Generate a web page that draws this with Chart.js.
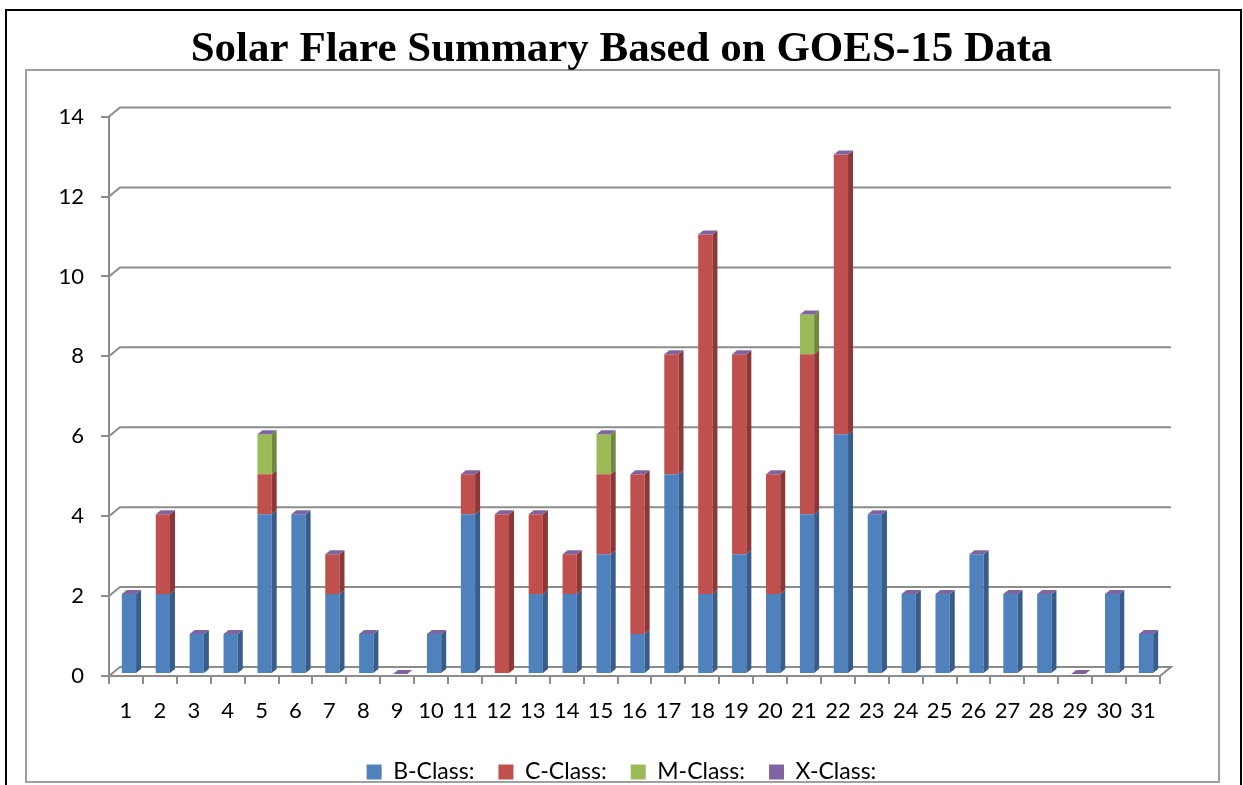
<!DOCTYPE html>
<html lang="en">

<head>
  <meta charset="UTF-8">
  <script src="https://cdn.jsdelivr.net/npm/chart.js"></script>
  <title>Solar Flare Summary</title>
  <style>
    html, body { margin: 0; padding: 0; background: #fff; }
    #wrap { width: 1243px; height: 785px; position: relative; }
  </style>
</head>

<body>
  <div id="wrap">
    <canvas id="grafico"></canvas>
  </div>
</body>

</html>
<script>
  // day of month
  var dias = [1, 2, 3, 4, 5, 6, 7, 8, 9, 10, 11, 12, 13, 14, 15, 16,
    17, 18, 19, 20, 21, 22, 23, 24, 25, 26, 27, 28, 29, 30, 31]

  // flares per class
  var bClass = [2, 2, 1, 1, 4, 4, 2, 1, 0, 1, 4, 0, 2, 2, 3, 1,
    5, 2, 3, 2, 4, 6, 4, 2, 2, 3, 2, 2, 0, 2, 1]
  var cClass = [0, 2, 0, 0, 1, 0, 1, 0, 0, 0, 1, 4, 2, 1, 2, 4,
    3, 9, 5, 3, 4, 7, 0, 0, 0, 0, 0, 0, 0, 0, 0]
  var mClass = [0, 0, 0, 0, 1, 0, 0, 0, 0, 0, 0, 0, 0, 0, 1, 0,
    0, 0, 0, 0, 1, 0, 0, 0, 0, 0, 0, 0, 0, 0, 0]
  var xClass = [0, 0, 0, 0, 0, 0, 0, 0, 0, 0, 0, 0, 0, 0, 0, 0,
    0, 0, 0, 0, 0, 0, 0, 0, 0, 0, 0, 0, 0, 0, 0]

  var yTicks = [0, 2, 4, 6, 8, 10, 12, 14]

  var nomes = ['B-Class:', 'C-Class:', 'M-Class:', 'X-Class:']
  var cores = ['#4f81bd', '#c0504d', '#9bbb59', '#8064a2']
  var coresLado = ['#385d8a', '#8c3836', '#71893f', '#5c4776']

  var GRID = '#8c8c8c'
  var DX = 11, DY = 9      // back wall depth
  var BX = 5, BY = 4       // bar depth
  var SHIFT_X = 3, SHIFT_Y = -2

  var efeito3d = {
    id: 'efeito3d',
    beforeDraw: function (chart) {
      var ctx = chart.ctx
      ctx.save()
      ctx.fillStyle = '#fff'
      ctx.fillRect(0, 0, chart.width, chart.height)
      // outer page border
      ctx.strokeStyle = '#000'
      ctx.lineWidth = 2
      ctx.strokeRect(6, 10, 1235, 790)
      // chart frame
      ctx.strokeStyle = '#a0a0a0'
      ctx.lineWidth = 2
      ctx.strokeRect(26, 70, 1193, 712)
      ctx.restore()
    },
    beforeDatasetsDraw: function (chart) {
      var ctx = chart.ctx
      var area = chart.chartArea
      var y = chart.scales.y
      ctx.save()
      ctx.strokeStyle = GRID
      ctx.lineWidth = 2
      yTicks.forEach(function (v) {
        var py = y.getPixelForValue(v)
        ctx.beginPath()
        ctx.moveTo(area.left, py)
        ctx.lineTo(area.left + DX, py - DY)
        ctx.lineTo(area.right + DX, py - DY)
        if (v === 0) ctx.lineTo(area.right, py)
        ctx.stroke()
      })
      ctx.restore()
      ctx.save()
      ctx.translate(SHIFT_X, SHIFT_Y)
    },
    afterDatasetsDraw: function (chart) {
      var ctx = chart.ctx
      var n = chart.data.datasets.length
      for (var d = 0; d < n; d++) {
        var meta = chart.getDatasetMeta(d)
        meta.data.forEach(function (bar) {
          var p = bar.getProps(['x', 'y', 'base', 'width'], true)
          var r = p.x + p.width / 2
          var l = p.x - p.width / 2
          if (p.base - p.y > 0.5) {
            ctx.fillStyle = coresLado[d]
            ctx.beginPath()
            ctx.moveTo(r, p.y)
            ctx.lineTo(r + BX, p.y - BY)
            ctx.lineTo(r + BX, p.base - BY)
            ctx.lineTo(r, p.base)
            ctx.closePath()
            ctx.fill()
          }
          if (d === n - 1) {
            ctx.fillStyle = cores[d]
            ctx.beginPath()
            ctx.moveTo(l, p.y)
            ctx.lineTo(l + BX, p.y - BY)
            ctx.lineTo(r + BX, p.y - BY)
            ctx.lineTo(r, p.y)
            ctx.closePath()
            ctx.fill()
          }
        })
      }
      ctx.restore()
    }
  }

  var series = [bClass, cClass, mClass, xClass]
  var datasets = series.map(function (s, i) {
    return {
      label: nomes[i],
      data: s,
      backgroundColor: cores[i],
      borderWidth: 0,
      barPercentage: 0.42,
      categoryPercentage: 1.0
    }
  })

  var fonteEixo = { family: 'Lato', size: 22 }

  var config = {
    type: 'bar',
    data: { labels: dias, datasets: datasets },
    options: {
      responsive: true,
      maintainAspectRatio: false,
      animation: false,
      layout: { padding: { top: 24, right: 0, bottom: -8.5, left: 0 } },
      plugins: {
        title: {
          display: true,
          text: 'Solar Flare Summary Based on GOES-15 Data',
          color: '#000',
          font: { family: 'Liberation Serif', size: 43, weight: 'bold' },
          padding: { top: 0, bottom: 41 }
        },
        legend: {
          position: 'bottom',
          labels: {
            color: '#000',
            font: { family: 'Lato', size: 23 },
            boxWidth: 15,
            boxHeight: 15,
            padding: 24
          }
        },
        tooltip: { enabled: false }
      },
      scales: {
        x: {
          stacked: true,
          grid: { drawOnChartArea: false, offset: true, tickLength: 8, color: GRID, lineWidth: 2 },
          border: { color: GRID, width: 2 },
          ticks: { color: '#000', font: fonteEixo, padding: 14, autoSkip: false, maxRotation: 0 },
          afterFit: function (s) { s.height = 60.5 }
        },
        y: {
          stacked: true,
          min: 0,
          max: 14,
          grid: { drawOnChartArea: false, tickLength: 8, color: GRID, lineWidth: 2 },
          border: { color: GRID, width: 2 },
          ticks: { color: '#000', font: fonteEixo, padding: 17, stepSize: 2 },
          afterFit: function (s) { s.width = 109 }
        },
        // empty right margin so the title and legend stay centred on the page
        margem: {
          type: 'linear',
          position: 'right',
          display: true,
          grid: { display: false },
          border: { display: false },
          ticks: { display: false },
          afterFit: function (s) { s.width = 83 }
        }
      }
    },
    plugins: [efeito3d]
  }

  new Chart(document.getElementById('grafico'), config)
</script>
